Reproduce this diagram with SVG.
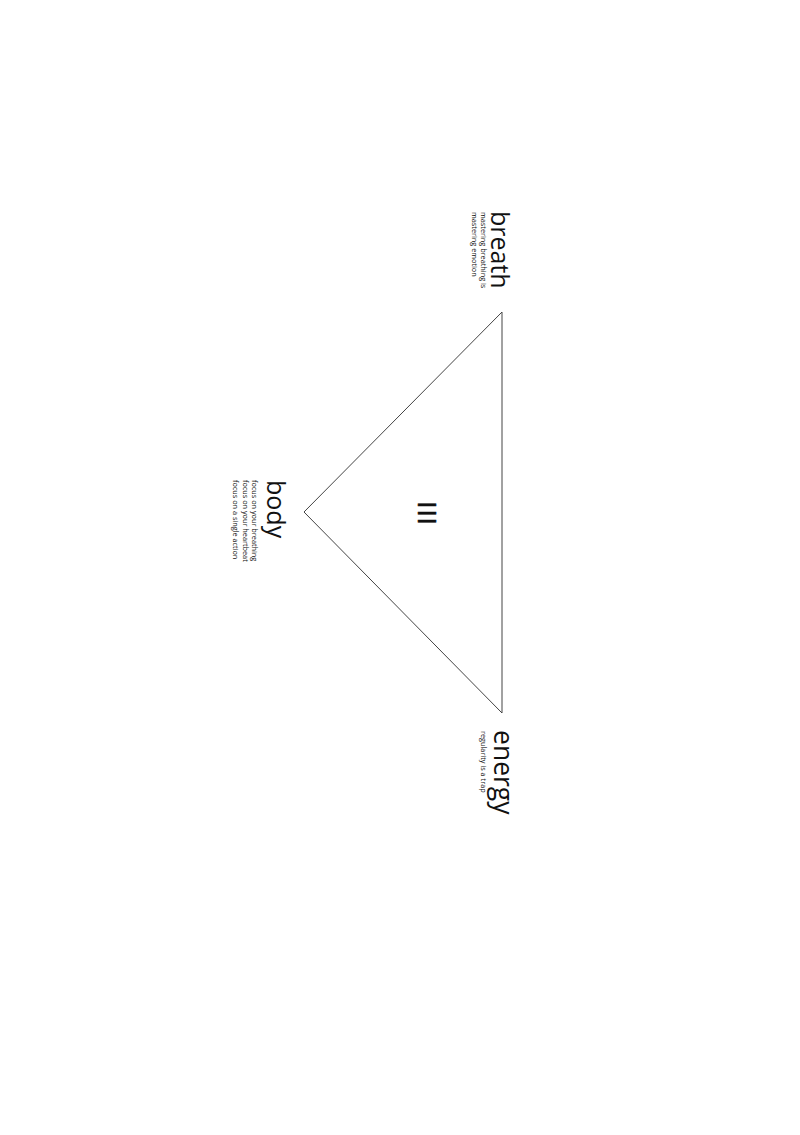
<svg xmlns="http://www.w3.org/2000/svg" width="800" height="1135" viewBox="0 0 800 1135">
<style>
.t{font-family:"Open Sans","Liberation Sans",sans-serif;fill:#111}
.big{font-size:25px}
.sm{font-size:7.3px}
.edge{fill:none;stroke:#444;stroke-width:1}
.sym{font-family:"Liberation Sans",sans-serif;font-size:26px;fill:#111;stroke:#111;stroke-width:0.5;letter-spacing:1px}
</style>
<rect width="800" height="1135" fill="#fff"/>
<g id="connectors">
<polyline class="edge" points="502,312 304,512 502,713 502,312"/>
</g>
<g id="center">
<text class="sym" transform="translate(418,513.5) rotate(90)" text-anchor="middle">III</text>
</g>
<g id="breath">
<text class="t big" transform="translate(491,211) rotate(90)">breath</text>
<text class="t sm" transform="translate(481,212) rotate(90)">mastering breathing is</text>
<text class="t sm" transform="translate(472,212) rotate(90)">mastering emotion</text>
</g>
<g id="body">
<text class="t big" transform="translate(267,480) rotate(90)">body</text>
<text class="t sm" transform="translate(252,480) rotate(90)">focus on your breathing</text>
<text class="t sm" transform="translate(243,480) rotate(90)">focus on your heartbeat</text>
<text class="t sm" transform="translate(233,480) rotate(90)">focus on a single action</text>
</g>
<g id="energy">
<text class="t big" transform="translate(494,730) rotate(90)" style="font-size:26.5px">energy</text>
<text class="t sm" transform="translate(481,731) rotate(90)">regularity is a trap</text>
</g>
</svg>
